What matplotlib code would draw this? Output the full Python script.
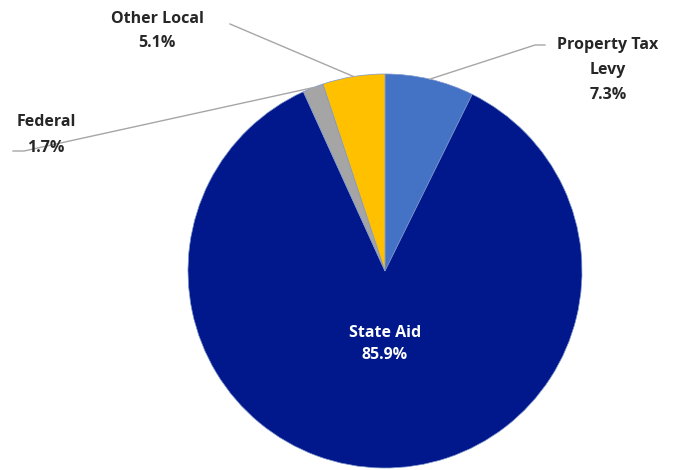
import numpy as np
import matplotlib.pyplot as plt

# revenue sources, clockwise from 12 o'clock
labels = ["Property Tax\nLevy", "State Aid", "Federal", "Other Local"]
shares = [7.3, 85.9, 1.7, 5.1]
colors = ["#4472C4", "#00188C", "#A5A5A5", "#FFC000"]

W, H = 675, 470
fig = plt.figure(figsize=(W / 100, H / 100), dpi=100)
ax = fig.add_axes([0, 0, 1, 1])

cx, cy, r = 385, H - 271, 197
wedges, _ = ax.pie(shares, colors=colors, startangle=90, counterclock=False,
                   center=(cx, cy), radius=r, frame=True,
                   wedgeprops=dict(linewidth=0.5, edgecolor="#7F96CC"))
ax.set_xlim(0, W)
ax.set_ylim(0, H)
ax.axis("off")
ax.set_aspect("equal")

font = dict(family="Open Sans", weight="bold", fontsize=11.5, ha="center", va="center")
line_col = "#A6A6A6"

def edge_point(w):
    mid = np.deg2rad((w.theta1 + w.theta2) / 2)
    return cx + r * np.cos(mid), cy + r * np.sin(mid)

# text centre, line spacing, then leader path from the text to the wedge
outside = {
    0: ((608, H - 70), 1.75, [(545, H - 45), (535, H - 45)]),
    2: ((46, H - 135), 1.8, [(13, H - 151), (24, H - 151)]),
    3: ((157, H - 31), 1.65, [(230, H - 24)]),
}
for i, (txt_pos, ls, path) in outside.items():
    ax.text(txt_pos[0], txt_pos[1], f"{labels[i]}\n{shares[i]}%",
            color="#262626", linespacing=ls, **font)
    ex, ey = edge_point(wedges[i])
    xs = [p[0] for p in path] + [ex]
    ys = [p[1] for p in path] + [ey]
    ax.plot(xs, ys, color=line_col, lw=1)

ax.text(cx, H - 344, f"{labels[1]}\n{shares[1]}%", color="white",
        linespacing=1.55, **font)

fig.savefig("out.png", dpi=100)
